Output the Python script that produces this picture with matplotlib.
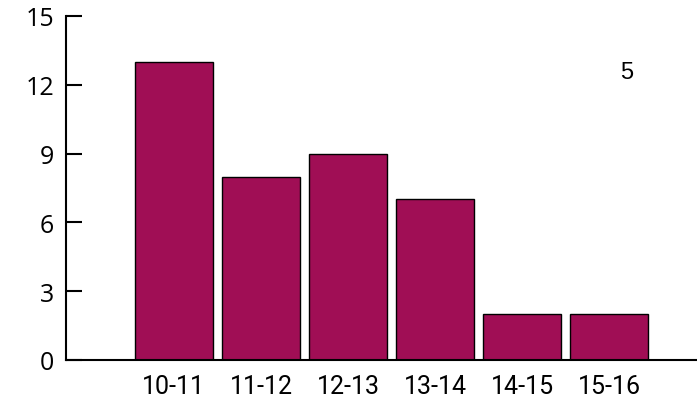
import matplotlib.pyplot as plt
import numpy as np

# data
categories = ['10-11', '11-12', '12-13', '13-14', '14-15', '15-16']
counts     = [13, 8, 9, 7, 2, 2]
yticks     = [0, 3, 6, 9, 12, 15]
note_text  = '5'

BAR_COLOR = '#A00E55'

fig = plt.figure(figsize=(6.97, 4.02), dpi=100)
ax = fig.add_axes([66 / 697, 41 / 402, 631 / 697, 344 / 402])

x = np.arange(len(categories))
ax.bar(x, counts, width=0.9, color=BAR_COLOR, edgecolor='black', linewidth=1.0)

ax.set_xlim(-1.24, 6.01)
ax.set_ylim(0, 15)
ax.set_yticks(yticks)
ax.set_xticks(x)
ax.set_xticklabels(categories)

for s in ['top', 'right']:
    ax.spines[s].set_visible(False)
for s in ['left', 'bottom']:
    ax.spines[s].set_linewidth(1.5)

ax.tick_params(axis='y', direction='in', length=11.5, width=1.5, pad=8.5,
               labelsize=18)
ax.tick_params(axis='x', length=0, pad=10, labelsize=18)
for lab in ax.get_yticklabels():
    lab.set_family('Open Sans')
for lab in ax.get_xticklabels():
    lab.set_family('Roboto')

ax.text(0.889, 0.838, note_text, transform=ax.transAxes, fontsize=17,
        family='Liberation Sans', ha='center', va='center')

fig.savefig('out.png', dpi=100)
